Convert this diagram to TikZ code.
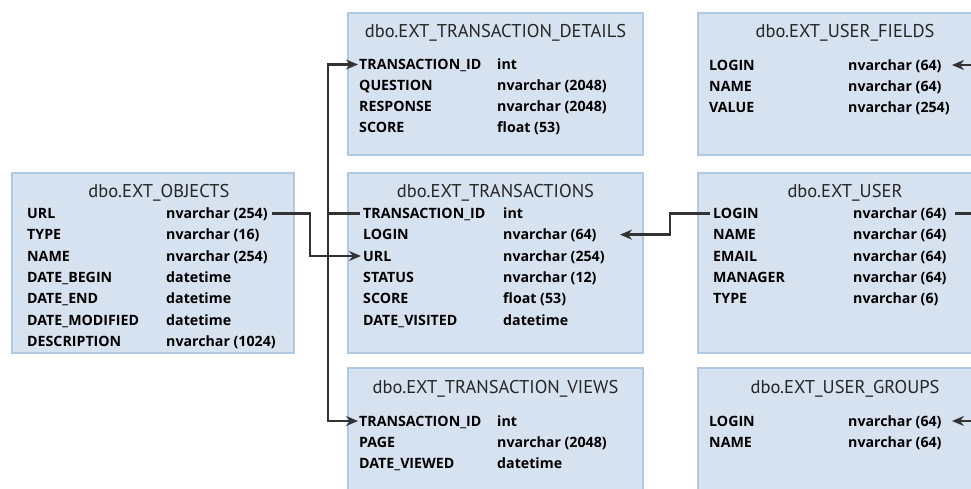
\documentclass[tikz,border=0pt]{standalone}
\usepackage{fontspec}
\setmainfont{PT Sans}
\newfontfamily\rowfont{Open Sans}
\usetikzlibrary{arrows.meta}
\definecolor{boxfill}{HTML}{D6E2F0}
\definecolor{boxline}{HTML}{AFC8E3}
\definecolor{titlec}{HTML}{262626}
\definecolor{linec}{HTML}{333333}
\begin{document}
\begin{tikzpicture}[x=1pt,y=-1pt,
  tbl/.style={draw=boxline, line width=2.2pt, fill=boxfill},
  ttl/.style={font=\fontsize{18.5}{18.5}\selectfont, text=titlec, inner sep=0pt, text height=13.5pt, text depth=0pt, anchor=center},
  fld/.style={font=\rowfont\bfseries\fontsize{14.2}{14.2}\selectfont, text=black, inner sep=0pt, text height=10.1pt, text depth=0pt, anchor=west},
  conn/.style={draw=linec, line width=2.5pt},
  arr/.style={conn, -{Stealth[length=12pt,width=10pt]}}]
\clip (0,0) rectangle (971,488);
\fill[white] (0,0) rectangle (971,488);
% tables
\draw[tbl] (12,173) rectangle (294,353);
\draw[tbl] (348,13) rectangle (643,155);
\draw[tbl] (348,173) rectangle (643,353);
\draw[tbl] (348,368) rectangle (643,500);
\draw[tbl] (698,13) rectangle (992,155);
\draw[tbl] (698,173) rectangle (992,353);
\draw[tbl] (698,368) rectangle (992,500);
% titles
\node[ttl] (otitle) at (159,191) {dbo.EXT\_OBJECTS};
\node[ttl] (dtitle) at (495.5,31) {dbo.EXT\_TRANSACTION\_DETAILS};
\node[ttl] (ttitle) at (495.5,191) {dbo.EXT\_TRANSACTIONS};
\node[ttl] (vtitle) at (495.5,387) {dbo.EXT\_TRANSACTION\_VIEWS};
\node[ttl] (ftitle) at (845,31) {dbo.EXT\_USER\_FIELDS};
\node[ttl] (utitle) at (845,191) {dbo.EXT\_USER};
\node[ttl] (gtitle) at (845,387) {dbo.EXT\_USER\_GROUPS};
% rows
\foreach \n/\t [count=\i] in {URL/{nvarchar (254)}, TYPE/{nvarchar (16)}, NAME/{nvarchar (254)}, DATE\_BEGIN/datetime, DATE\_END/datetime, DATE\_MODIFIED/datetime, DESCRIPTION/{nvarchar (1024)}}{
  \node[fld] (on\i) at (27,{192.2+21.33*\i}) {\n};
  \node[fld] (ot\i) at (166,{192.2+21.33*\i}) {\t};
}
\foreach \n/\t [count=\i] in {TRANSACTION\_ID/int, QUESTION/{nvarchar (2048)}, RESPONSE/{nvarchar (2048)}, SCORE/{float (53)}}{
  \node[fld] (dn\i) at (359,{43.5+21*\i}) {\n};
  \node[fld] (dt\i) at (497,{43.5+21*\i}) {\t};
}
\foreach \n/\t [count=\i] in {TRANSACTION\_ID/int, LOGIN/{nvarchar (64)}, URL/{nvarchar (254)}, STATUS/{nvarchar (12)}, SCORE/{float (53)}, DATE\_VISITED/datetime}{
  \node[fld] (tn\i) at (363,{192+21.33*\i}) {\n};
  \node[fld] (tt\i) at (503,{192+21.33*\i}) {\t};
}
\foreach \n/\t [count=\i] in {TRANSACTION\_ID/int, PAGE/{nvarchar (2048)}, DATE\_VIEWED/datetime}{
  \node[fld] (vn\i) at (359,{400+21*\i}) {\n};
  \node[fld] (vt\i) at (497,{400+21*\i}) {\t};
}
\foreach \n/\t [count=\i] in {LOGIN/{nvarchar (64)}, NAME/{nvarchar (64)}, VALUE/{nvarchar (254)}}{
  \node[fld] (fn\i) at (709,{44+21*\i}) {\n};
  \node[fld] (ft\i) at (848,{44+21*\i}) {\t};
}
\foreach \n/\t [count=\i] in {LOGIN/{nvarchar (64)}, NAME/{nvarchar (64)}, EMAIL/{nvarchar (64)}, MANAGER/{nvarchar (64)}, TYPE/{nvarchar (6)}}{
  \node[fld] (un\i) at (713,{192+21.33*\i}) {\n};
  \node[fld] (ut\i) at (853,{192+21.33*\i}) {\t};
}
\foreach \n/\t [count=\i] in {LOGIN/{nvarchar (64)}, NAME/{nvarchar (64)}}{
  \node[fld] (gn\i) at (709,{400+21*\i}) {\n};
  \node[fld] (gt\i) at (848,{400+21*\i}) {\t};
}
% junction coordinates
\coordinate (jx1) at (310,0);
\coordinate (jx2) at (328,0);
\coordinate (jx3) at (670,0);
\coordinate (tip3) at (620,0);
\coordinate (jx4) at (985,0);
\coordinate (tip4) at (952,0);
\coordinate (st4) at (955,0);
\coordinate (st1) at (272,0);
% connectors
\draw[arr] (on1 -| st1) -- (on1 -| jx1) -- (tn3 -| jx1) -- ([xshift=-2pt]tn3.west);
\draw[conn] ([xshift=-3pt]tn1.west) -- (tn1 -| jx2);
\draw[arr] (tn1 -| jx2) |- ([xshift=-1pt]dn1.west);
\draw[arr] (tn1 -| jx2) |- ([xshift=-1pt]vn1.west);
\draw[arr] ([xshift=-3pt]un1.west) -- (un1 -| jx3) -- (tt2 -| jx3) -- (tt2 -| tip3);
\draw[conn] (ut1 -| st4) -- (ut1 -| jx4);
\draw[arr] (ut1 -| jx4) |- (ft1 -| tip4);
\draw[arr] (ut1 -| jx4) |- (gt1 -| tip4);
\end{tikzpicture}
\end{document}
